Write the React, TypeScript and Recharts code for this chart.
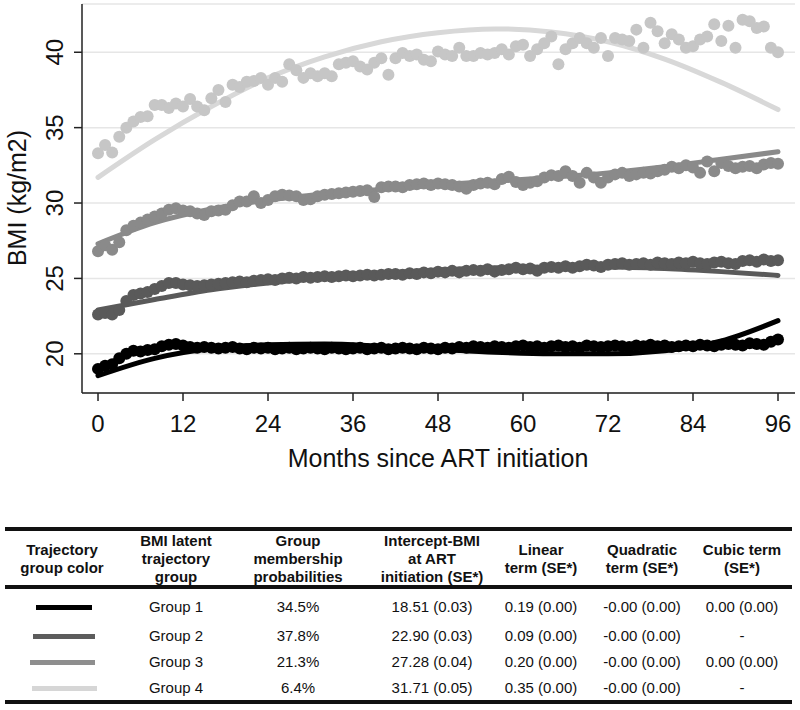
import { CartesianGrid, ComposedChart, Line, Scatter, XAxis, YAxis } from "recharts";

const FONT = '"Liberation Sans", Arial, Helvetica, sans-serif';

// months since ART initiation (one observed mean per month)
const months = Array.from({ length: 97 }, (_, i) => i);
const xTicks = [0, 12, 24, 36, 48, 60, 72, 84, 96];
const yTicks = [20, 25, 30, 35, 40];

const group1 = [
  19.0, 19.2, 19.3, 19.7, 20.0, 20.2, 20.15, 20.25, 20.3, 20.5, 20.6, 20.65, 20.55, 20.45, 20.4, 20.45,
  20.4, 20.35, 20.4, 20.45, 20.35, 20.3, 20.4, 20.35, 20.4, 20.3, 20.35, 20.4, 20.3, 20.35, 20.4, 20.35,
  20.3, 20.4, 20.35, 20.3, 20.35, 20.4, 20.3, 20.35, 20.4, 20.3, 20.35, 20.4, 20.35, 20.3, 20.4, 20.35,
  20.3, 20.4, 20.35, 20.45, 20.4, 20.5, 20.45, 20.4, 20.5, 20.45, 20.4, 20.5, 20.55, 20.45, 20.5, 20.4,
  20.5, 20.55, 20.45, 20.5, 20.4, 20.55, 20.5, 20.45, 20.5, 20.55, 20.5, 20.45, 20.55, 20.5, 20.6, 20.5,
  20.55, 20.45, 20.5, 20.55, 20.5, 20.6, 20.55, 20.5, 20.6, 20.65, 20.6, 20.55, 20.7, 20.65, 20.6, 20.8,
  20.95,
];
const group2 = [
  22.6, 22.7, 22.6, 22.9, 23.5, 23.9, 24.0, 24.1, 24.3, 24.5, 24.7, 24.7, 24.6, 24.55, 24.5, 24.55,
  24.6, 24.65, 24.7, 24.75, 24.8, 24.75, 24.85, 24.9, 24.95, 24.9, 25.0, 25.05, 25.0, 25.1, 25.05, 25.1,
  25.15, 25.1, 25.15, 25.2, 25.15, 25.2, 25.25, 25.2, 25.25, 25.3, 25.3, 25.25, 25.35, 25.3, 25.4, 25.35,
  25.45, 25.4, 25.5, 25.4, 25.5, 25.55, 25.5, 25.6, 25.45, 25.55, 25.6, 25.7, 25.6, 25.65, 25.5, 25.7,
  25.75, 25.7, 25.8, 25.7, 25.8, 25.9, 25.85, 25.75, 25.9, 25.95, 26.0, 25.9, 25.95, 26.0, 25.9, 26.05,
  26.0, 25.95, 26.05, 26.0, 26.1, 26.0, 25.95, 26.05, 26.1, 26.0, 25.95, 26.15, 26.2, 26.1, 26.25, 26.15,
  26.2,
];
const group3 = [
  26.8, 27.2, 26.9, 27.4, 28.2, 28.5, 28.7, 28.9, 29.1, 29.3, 29.55, 29.65, 29.5, 29.45, 29.3, 29.2,
  29.45, 29.5, 29.55, 29.85, 30.1, 30.1, 30.45, 30.0, 30.2, 30.45, 30.55, 30.5, 30.45, 30.2, 30.25, 30.45,
  30.55, 30.6, 30.65, 30.7, 30.75, 30.8, 30.85, 30.4, 31.05, 31.1, 31.1, 31.05, 31.2, 31.25, 31.3, 31.2,
  31.3, 31.25, 31.2, 31.1, 30.95, 31.2, 31.3, 31.35, 31.25, 31.6, 31.75, 31.4, 31.2, 31.35, 31.45, 31.7,
  31.85, 31.8, 32.1, 31.8, 31.35, 32.0, 31.7, 31.35, 31.7, 31.9, 32.0, 31.8, 31.9, 32.0, 31.95, 32.1,
  32.2, 32.4, 32.3, 32.5, 32.35, 32.0, 32.75, 32.1, 32.65, 32.45, 32.3, 32.4, 32.45, 32.3, 32.55, 32.65,
  32.6,
];
const group4 = [
  33.3, 33.85, 33.35, 34.4, 35.0, 35.4, 35.7, 35.75, 36.5, 36.5, 36.3, 36.6, 36.4, 36.9, 36.4, 36.15,
  36.95, 37.5, 36.7, 37.85, 37.7, 38.05, 38.1, 38.3, 37.85, 38.3, 38.05, 39.2, 38.8, 38.3, 38.6, 38.4,
  38.6, 38.4, 39.2, 39.3, 39.4, 39.05, 38.85, 39.3, 39.6, 38.5, 39.6, 39.95, 39.75, 39.85, 39.5, 39.4,
  40.05, 39.85, 39.75, 40.3, 39.75, 39.75, 39.95, 39.85, 39.95, 40.2, 39.85, 40.4, 40.5, 39.75, 40.2, 40.6,
  41.05, 39.2, 40.2, 40.6, 40.95, 40.6, 40.3, 40.95, 39.75, 40.95, 40.85, 40.75, 41.5, 40.3, 41.95, 41.4,
  40.6, 41.2, 40.85, 40.3, 40.4, 40.85, 41.05, 41.85, 40.75, 41.75, 40.3, 42.15, 42.05, 41.6, 41.7, 40.3,
  40.0,
];

// estimated trajectories, every 8 months
const fitMonths = [0, 8, 16, 24, 32, 40, 48, 56, 64, 72, 80, 88, 96];
const fit1 = [18.55, 19.7, 20.35, 20.6, 20.65, 20.5, 20.3, 20.1, 20.0, 20.0, 20.2, 20.85, 22.2];
const fit2 = [22.9, 23.6, 24.25, 24.7, 25.05, 25.35, 25.55, 25.7, 25.75, 25.75, 25.65, 25.45, 25.2];
const fit3 = [27.3, 28.7, 29.6, 30.2, 30.6, 30.9, 31.2, 31.45, 31.7, 32.0, 32.4, 32.9, 33.4];
const fit4 = [31.7, 34.2, 36.4, 38.3, 39.7, 40.7, 41.3, 41.55, 41.35, 40.7, 39.55, 38.0, 36.2];

// table
const groupNames = ["Group 1", "Group 2", "Group 3", "Group 4"];
const groupColors = ["#000000", "#5a5a5a", "#8a8a8a", "#c6c6c6"];
const fitColors = ["#000000", "#5a5a5a", "#8a8a8a", "#d8d8d8"];
const swatchColors = ["#000000", "#5c5c5c", "#8e8e8e", "#d6d6d6"];
const probabilities = ["34.5%", "37.8%", "21.3%", "6.4%"];
const intercepts = ["18.51 (0.03)", "22.90 (0.03)", "27.28 (0.04)", "31.71 (0.05)"];
const linearTerms = ["0.19 (0.00)", "0.09 (0.00)", "0.20 (0.00)", "0.35 (0.00)"];
const quadraticTerms = ["-0.00 (0.00)", "-0.00 (0.00)", "-0.00 (0.00)", "-0.00 (0.00)"];
const cubicTerms = ["0.00 (0.00)", "-", "0.00 (0.00)", "-"];
const headers = [
  ["Trajectory", "group color"],
  ["BMI latent", "trajectory", "group"],
  ["Group", "membership", "probabilities"],
  ["Intercept-BMI", "at ART", "initiation (SE*)"],
  ["Linear", "term (SE*)"],
  ["Quadratic", "term (SE*)"],
  ["Cubic term", "(SE*)"],
];

const toPoints = (vals: number[]) => vals.map((v, i) => ({ m: months[i], v }));
const toFit = (vals: number[]) => vals.map((v, i) => ({ m: fitMonths[i], v }));

const observed = [group1, group2, group3, group4].map(toPoints);
const fitted = [fit1, fit2, fit3, fit4].map(toFit);

const colCenters = [62, 176, 298, 432, 541, 642, 742];
const rowCenters = [607, 636, 662, 688];
const swatchSpans = [
  [36, 92],
  [33, 95],
  [30, 95],
  [32, 97],
];

function YTick(props: any) {
  const { y, payload } = props;
  return (
    <text
      x={63}
      y={y}
      transform={`rotate(-90 63 ${y})`}
      textAnchor="middle"
      fontSize={24}
      fontFamily={FONT}
      fill="#111"
    >
      {payload.value}
    </text>
  );
}

function XTick(props: any) {
  const { x, payload } = props;
  return (
    <text x={x} y={432} textAnchor="middle" fontSize={24} fontFamily={FONT} fill="#111">
      {payload.value}
    </text>
  );
}

function Cell({ cx, top, lines, bold }: { cx: number; top: number; lines: string[]; bold?: boolean }) {
  return (
    <div
      style={{
        position: "absolute",
        left: cx - 80,
        top,
        width: 160,
        textAlign: "center",
        fontSize: 15,
        lineHeight: "18px",
        fontWeight: bold ? 700 : 400,
        color: "#111",
        whiteSpace: "nowrap",
      }}
    >
      {lines.map((l, i) => (
        <div key={i}>{l}</div>
      ))}
    </div>
  );
}

export default function App() {
  const rows = groupNames.map((g, i) => [g, probabilities[i], intercepts[i], linearTerms[i], quadraticTerms[i], cubicTerms[i]]);
  return (
    <div
      style={{
        position: "absolute",
        left: 0,
        top: 0,
        width: 800,
        height: 710,
        background: "#fff",
        fontFamily: FONT,
      }}
    >
      <ComposedChart width={800} height={480} margin={{ top: 4, right: 5, left: 0, bottom: 0 }}>
        <CartesianGrid vertical={false} stroke="#e6e6e6" strokeWidth={1.5} />
        <XAxis
          type="number"
          dataKey="m"
          domain={[-2.26, 98.4]}
          ticks={xTicks}
          allowDataOverflow
          height={87}
          tickSize={8}
          tick={<XTick />}
          axisLine={{ stroke: "#222", strokeWidth: 1.5 }}
          tickLine={{ stroke: "#222", strokeWidth: 1.5 }}
        />
        <YAxis
          type="number"
          dataKey="v"
          domain={[17.4, 43.2]}
          ticks={yTicks}
          allowDataOverflow
          width={82}
          tickSize={8}
          tick={<YTick />}
          axisLine={{ stroke: "#222", strokeWidth: 1.5 }}
          tickLine={{ stroke: "#222", strokeWidth: 1.5 }}
        />
        {observed.map((pts, i) => (
          <Line
            key={`fit${i}`}
            data={fitted[i]}
            dataKey="v"
            type="monotone"
            stroke={fitColors[i]}
            strokeWidth={5}
            strokeLinecap="round"
            dot={false}
            activeDot={false}
            isAnimationActive={false}
          />
        ))}
        {observed.map((pts, i) => (
          <Scatter
            key={`obs${i}`}
            data={pts}
            dataKey="v"
            fill={groupColors[i]}
            isAnimationActive={false}
            shape={(p: any) => <circle cx={p.cx} cy={p.cy} r={6} fill={groupColors[i]} />}
          />
        ))}
      </ComposedChart>

      <svg width={800} height={480} style={{ position: "absolute", left: 0, top: 0, pointerEvents: "none" }}>
        <text
          x={26}
          y={198}
          transform="rotate(-90 26 198)"
          textAnchor="middle"
          fontSize={25}
          fontFamily={FONT}
          fill="#111"
        >
          BMI (kg/m2)
        </text>
        <text x={438} y={467} textAnchor="middle" fontSize={25} fontFamily={FONT} fill="#111">
          Months since ART initiation
        </text>
      </svg>

      {/* table rules */}
      <div style={{ position: "absolute", left: 5, width: 787, top: 527, height: 4, background: "#111" }} />
      <div style={{ position: "absolute", left: 5, width: 787, top: 585, height: 4, background: "#111" }} />
      <div style={{ position: "absolute", left: 5, width: 787, top: 700, height: 4, background: "#111" }} />

      {headers.map((h, i) => (
        <Cell key={`h${i}`} cx={colCenters[i]} top={559 - (h.length * 18) / 2} lines={h} bold />
      ))}

      {rows.map((r, ri) => (
        <div key={`r${ri}`}>
          <div
            style={{
              position: "absolute",
              left: swatchSpans[ri][0],
              width: swatchSpans[ri][1] - swatchSpans[ri][0],
              top: rowCenters[ri] - 2.5,
              height: 5,
              background: swatchColors[ri],
            }}
          />
          {r.map((c, ci) => (
            <Cell key={ci} cx={colCenters[ci + 1]} top={rowCenters[ri] - 9} lines={[c]} />
          ))}
        </div>
      ))}
    </div>
  );
}
